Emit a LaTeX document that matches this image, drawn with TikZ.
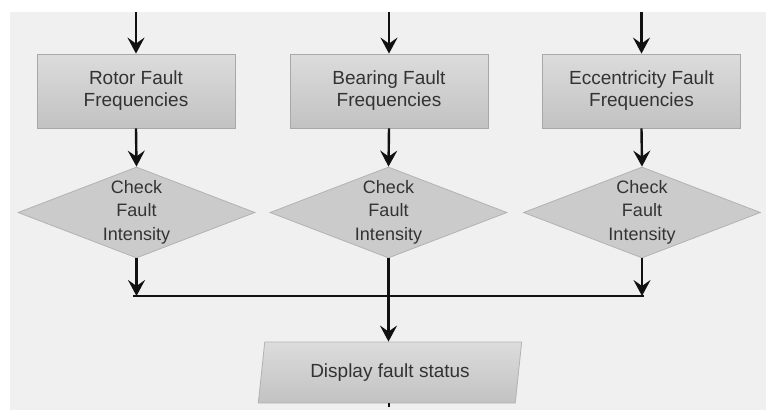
\documentclass[tikz,border=0pt]{standalone}
\usepackage{fontspec}
\setmainfont{Liberation Sans}
\usetikzlibrary{shapes.geometric,arrows.meta}
\definecolor{bg}{HTML}{F0F0F0}
\definecolor{boxtop}{HTML}{DCDCDC}
\definecolor{boxbot}{HTML}{C2C2C2}
\definecolor{boxline}{HTML}{A8A8A8}
\definecolor{diafill}{HTML}{CBCBCB}
\definecolor{dialine}{HTML}{B2B2B2}
\definecolor{txt}{HTML}{333333}
\definecolor{arr}{HTML}{111111}
\tikzset{
  procbox/.style={rectangle, minimum width=198pt, minimum height=74pt, inner sep=0pt,
    top color=boxtop, bottom color=boxbot, draw=boxline, line width=0.8pt,
    text=txt, align=center, font=\fontsize{19}{22}\selectfont},
  decbox/.style={diamond, minimum width=237pt, minimum height=91pt, inner sep=0pt,
    fill=diafill, draw=dialine, line width=0.8pt},
  dectext/.style={text=txt, align=center, font=\fontsize{18}{23.5}\selectfont, inner sep=0pt},
  iobox/.style={trapezium, trapezium left angle=77, trapezium right angle=103,
    trapezium stretches=true, minimum width=264pt, minimum height=61pt, inner sep=0pt,
    top color=boxtop, bottom color=boxbot, draw=dialine, line width=0.8pt,
    text=txt, font=\fontsize{19}{22}\selectfont},
  flow/.style={draw=arr, line width=2.4pt, -{Stealth[length=16pt,width=17pt,inset=6pt]}},
  plainflow/.style={draw=arr, line width=2.4pt}
}
\begin{document}
\begin{tikzpicture}[x=1pt,y=-1pt]
\useasboundingbox (0,0) rectangle (766,413);
\fill[bg] (10,12) rectangle (766,410);

% top entry points
\coordinate (t1) at (136,12);
\coordinate (t2) at (389,12);
\coordinate (t3) at (641.5,12);

% process boxes
\node[procbox] (b1) at (136,91) {Rotor Fault\\Frequencies};
\node[procbox] (b2) at (389,91) {Bearing Fault\\Frequencies};
\node[procbox] (b3) at (641.5,91) {Eccentricity Fault\\Frequencies};

% decisions
\node[decbox] (d1) at (136.5,212.5) {};
\node[decbox] (d2) at (388.5,212.5) {};
\node[decbox] (d3) at (642,212.5) {};
\node[dectext] (d1t) at (136.5,212) {Check\\Fault\\Intensity};
\node[dectext] (d2t) at (388.5,212) {Check\\Fault\\Intensity};
\node[dectext] (d3t) at (642,212) {Check\\Fault\\Intensity};

% output
\node[iobox] (disp) at (390,372.5) {Display fault status};

% junction coordinates
\coordinate (j1) at (136.5,296);
\coordinate (j3) at (642,296);
\coordinate (jl) at (133,296);
\coordinate (jr) at (644,296);
\coordinate (tail) at (389,406.5);

% connectors
\draw[flow] (t1) -- (b1.north);
\draw[flow] (t2) -- (b2.north);
\draw[flow] (t3) -- (b3.north);
\draw[flow] (b1.south) -- (d1.north);
\draw[flow] (b2.south) -- (d2.north);
\draw[flow] (b3.south) -- (d3.north);
\draw[flow] (d1.south) -- (j1);
\draw[flow] (d3.south) -- (j3);
\draw[plainflow] (jl) -- (jr);
\draw[flow] (d2.south) -- (d2.south |- disp.north);
\draw[draw=arr, line width=2.2pt] (disp.south -| tail) -- (tail);
\end{tikzpicture}
\end{document}
